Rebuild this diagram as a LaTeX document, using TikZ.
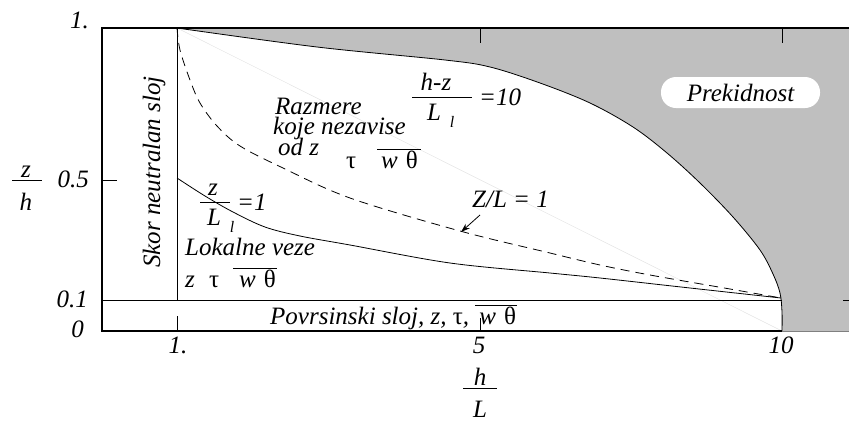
\documentclass[tikz,border=0pt]{standalone}
\usepackage{fontspec}
\setmainfont{Liberation Serif}
\usetikzlibrary{arrows.meta}
\definecolor{regiongray}{RGB}{191,191,191}
\definecolor{faintgray}{RGB}{228,228,228}
\newcommand\ovl[1]{\leavevmode\vbox{\hrule height 0.8pt\kern 1.2pt\hbox{#1}}}
\newcommand\tup{\textup{τ}}
\newcommand\thup{\textup{θ}}
\begin{document}
\begin{tikzpicture}[x=1pt,y=-1pt,
  lbl/.style={inner sep=0pt, font=\fontsize{25}{28}\selectfont\itshape},
  sublbl/.style={inner sep=0pt, font=\fontsize{16}{18}\selectfont\itshape},
  axisline/.style={line width=1.1pt},
  thinline/.style={line width=0.8pt}]
\useasboundingbox (0,0) rectangle (849,421);
% shaded region
\fill[regiongray] (177,28) -- (849,28) -- (849,331) -- (782,331)
  -- plot[smooth, tension=0.55] coordinates {(782,331) (782,312) (780,293) (773,274) (760,250) (733,217) (700,183) (667,153) (633,127) (590,103) (540,83) (490,67) (445,60) (317,47) (177,28)} -- cycle;
\draw[thinline] plot[smooth, tension=0.55] coordinates {(782,331) (782,312) (780,293) (773,274) (760,250) (733,217) (700,183) (667,153) (633,127) (590,103) (540,83) (490,67) (445,60) (317,47) (177,28)};
% faint diagonal
\coordinate (c1) at (177,28);
\coordinate (c10) at (782,331);
\draw[faintgray, line width=0.5pt] (c1) -- (c10);
% frame
\draw[axisline] (849,28) -- (102,28) -- (102,331) -- (782,331);
\draw[gray, line width=0.4pt] (782,331) -- (849,331);
\draw[thinline] (102,300) -- (782,300);
\draw[thinline] (843,300) -- (849,300);
\draw[thinline] (177,28) -- (177,300);
% ticks
\draw[thinline] (102,180) -- (117,180);
\draw[thinline] (177,331) -- (177,316);
\draw[thinline] (480,331) -- (480,318);
\draw[thinline] (480,28) -- (480,43);
\draw[thinline] (782,28) -- (782,43);
% dashed curve Z/L=1
\draw[thinline, dash pattern=on 9pt off 6pt] plot[smooth, tension=0.55] coordinates {(177,28) (180,50) (190,80) (200,103) (217,126) (240,146) (283,168) (350,198) (460,231) (550,253) (600,265) (650,275) (730,289) (781,298)};
% solid curve z/L=1
\draw[thinline] plot[smooth, tension=0.55] coordinates {(177,178) (205,196) (233,212) (265,227) (300,236) (350,245) (450,263) (550,273) (600,278) (690,288) (781,298)};
% Prekidnost
\node[lbl, fill=white, rounded corners=15pt, minimum width=159pt, minimum height=31pt] (prek) at (740.5,92.5) {Prekidnost};
% axis labels
\node[lbl, anchor=base east] (y1) at (89,28) {1.};
\node[lbl, anchor=base east] (y05) at (89,187) {0.5};
\node[lbl, anchor=base east] (y01) at (88,307) {0.1};
\node[lbl, anchor=base east] (y0) at (84,337) {0};
\node[lbl, anchor=base] (x1) at (178,353) {1.};
\node[lbl, anchor=base] (x5) at (479,353) {5};
\node[lbl, anchor=base] (x10) at (781,353) {10};
% z/h
\node[lbl, anchor=base] (zn) at (26,177) {z};
\node[lbl, anchor=base] (hd) at (26,210) {h};
\draw[thinline] (12,180) -- (42,180);
% h/L
\node[lbl, anchor=base] (hn) at (480,385) {h};
\node[lbl, anchor=base] (Ld) at (480,417) {L};
\draw[thinline] (463,388) -- (497,388);
% Skor neutralan sloj
\node[lbl, rotate=90] (skor) at (154,172) {Skor neutralan sloj};
% Razmere
\node[lbl, anchor=base west] (r1) at (275,114) {Razmere};
\node[lbl, anchor=base west] (r2) at (273,134) {koje nezavise};
\node[lbl, anchor=base west] (r3) at (278,155) {od z};
\node[lbl, anchor=base west] (r4) at (346,168) {\tup};
\node[lbl, anchor=base west] (r5) at (377,168) {\ovl{\kern4pt w\kern8pt\thup\kern3pt}};
% h-z / L_l = 10
\node[lbl, anchor=base] (hz) at (436,90) {h-z};
\draw[thinline] (412,97) -- (472,97);
\node[lbl, anchor=base] (Ll) at (434,120) {L};
\node[sublbl, anchor=base] (l1) at (452,127) {l};
\node[lbl, anchor=base west] (eq10) at (479,105) {=10};
% z / L_l = 1
\node[lbl, anchor=base] (zz) at (213,195) {z};
\draw[thinline] (200,202) -- (230,202);
\node[lbl, anchor=base] (L2) at (214,225) {L};
\node[sublbl, anchor=base] (l2) at (232,232) {l};
\node[lbl, anchor=base west] (eq1) at (237,210) {=1};
% Lokalne veze
\node[lbl, anchor=base west] (lok) at (185,255) {Lokalne veze};
\node[lbl, anchor=base west] (lz) at (185,287) {z};
\node[lbl, anchor=base west] (lt) at (209,287) {\tup};
\node[lbl, anchor=base west] (lw) at (233,287) {\ovl{\kern6pt w\kern8pt\thup\kern1pt}};
% Povrsinski sloj
\node[lbl, anchor=base west] (pov) at (270,324) {Povrsinski sloj, z, \tup, \ovl{\kern4pt w\kern8pt\thup\kern1pt}};
% Z/L = 1 with arrow
\node[lbl, anchor=base west] (ZL) at (472,207) {Z/L = 1};
\coordinate (arrtip) at (461,232);
\draw[thinline, -{Stealth[length=9pt,width=6pt]}] (480,215) -- (arrtip);
\end{tikzpicture}
\end{document}
